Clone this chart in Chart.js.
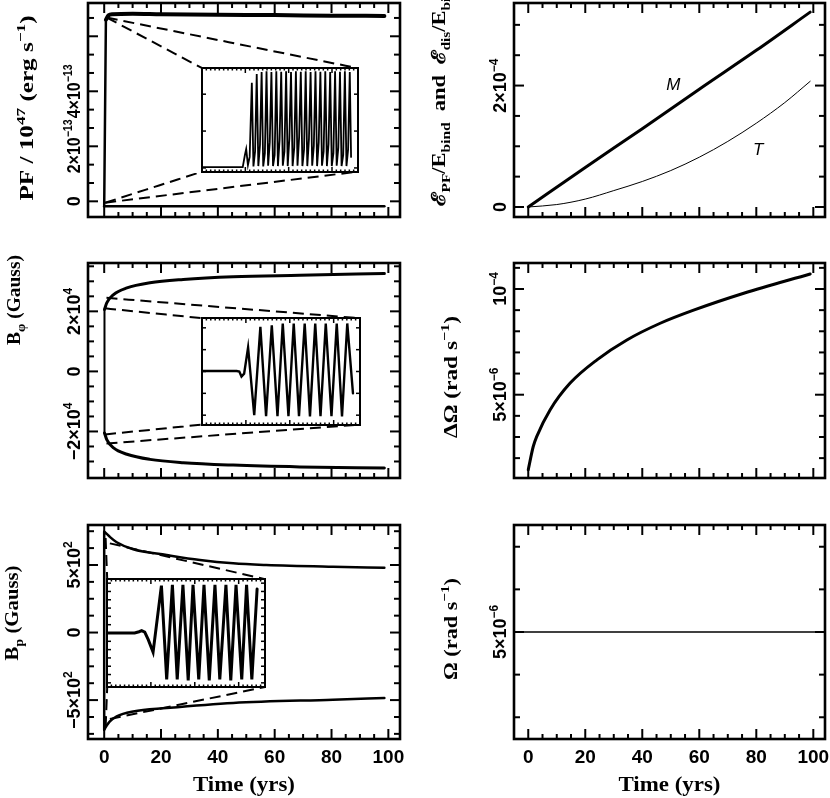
<!DOCTYPE html>
<html>
<head>
<meta charset="utf-8">
<title>Field and spin evolution</title>
<script src="https://cdn.jsdelivr.net/npm/chart.js@4.4.1/dist/chart.umd.min.js"></script>
<style>
  html, body { margin: 0; padding: 0; background: #fff; }
  #page { position: relative; width: 830px; height: 798px; overflow: hidden; background: #fff; }
  #page canvas { position: absolute; }
</style>
</head>
<body>
<div id="page"></div>
<script>
// time axis labels (yrs), shared by every panel
const timeTicks = [0, 20, 40, 60, 80, 100];

// PF / 1e47, units of 1e-13 erg/s
const pfTopTime = [0.6, 1.5, 3, 10, 20, 40, 60, 80, 98.6];
const pfTopVal = [6.6, 6.76, 6.8, 6.82, 6.8, 6.78, 6.77, 6.75, 6.74];
const pfLowTime = [0, 98.6];
const pfLowVal = [-0.18, -0.18];
const pfRiseTime = [0, 0.6];
const pfRiseVal = [-0.18, 6.6];
// zoomed start of PF (inset units)
const pfInsetTime = [0, 9.4, 9.9, 10.2, 10.6, 11.0, 11.5,
  11.87, 12.25, 12.63, 13.0, 13.38, 13.76, 14.13, 14.51, 14.89, 15.26, 15.64, 16.02,
  16.39, 16.77, 17.15, 17.52, 17.9, 18.28, 18.65, 19.03, 19.41, 19.78, 20.16, 20.54,
  20.91, 21.29, 21.67, 22.04, 22.42, 22.8, 23.17, 23.55, 23.93, 24.3, 24.68, 25.06,
  25.43, 25.81, 26.19, 26.56, 26.94, 27.32, 27.69, 28.07, 28.45, 28.82, 29.2, 29.58,
  29.95, 30.33, 30.71, 31.08, 31.46, 31.84, 32.21, 32.59, 32.97, 33.34, 33.72, 34.1, 34.4];
const pfInsetVal = [0.02, 0.02, 0.35, 0.51, 0.08, 0.3, 2.31,
  0.04, 0.45, 2.55, 0.05, 0.62, 2.6, 0.04, 0.4, 2.62, 0.06, 0.7, 2.6,
  0.05, 0.35, 2.62, 0.05, 0.75, 2.61, 0.06, 0.45, 2.62, 0.05, 0.8, 2.6,
  0.05, 0.55, 2.62, 0.06, 0.85, 2.61, 0.05, 0.5, 2.62, 0.05, 0.78, 2.6,
  0.06, 0.6, 2.62, 0.05, 0.7, 2.61, 0.06, 0.45, 2.62, 0.05, 0.65, 2.6,
  0.05, 0.4, 2.62, 0.06, 0.55, 2.61, 0.05, 0.35, 2.62, 0.05, 0.5, 2.6, 0.3];
const pfLinkTime = [0.9, 0.9, 0.35, 0.35];
const pfLinkVal = [6.68, 6.68, -0.05, -0.05];

// B_phi, units of 1e4 G
const bphiTime = [0.1, 0.9, 3.3, 8, 16.1, 27.8, 45.4, 68.8, 98.6];
const bphiTopVal = [2.06, 2.28, 2.56, 2.78, 2.95, 3.06, 3.15, 3.2, 3.26];
const bphiLowVal = [-2.05, -2.27, -2.55, -2.76, -2.93, -3.04, -3.12, -3.18, -3.22];
const bphiInsetTime = [0, 7.9, 8.5, 9.0, 9.6, 10.5, 11.9, 13.3, 14.6, 15.9, 17.2, 18.4,
  19.7, 20.9, 22.1, 23.4, 24.6, 25.8, 27.0, 28.2, 29.5, 30.7, 31.9, 33.1, 34.4];
const bphiInsetVal = [0.02, 0.02, 0.0, -0.23, -0.1, 1.1, -2.0, 2.05, -2.05, 2.12, -2.05, 2.2,
  -2.05, 2.2, -2.05, 2.2, -2.06, 2.2, -2.05, 2.2, -2.05, 2.2, -2.06, 2.2, -1.0];
const bphiLinkTime = [0.3, 0.8, 0.3, 0.8];
const bphiLinkVal = [2.1, 2.45, -2.1, -2.4];

// B_p, units of 1e2 G
const bpTopTime = [0, 1, 2, 4.4, 10.2, 22, 33.7, 45.4, 57, 80.5, 98.6];
const bpTopVal = [7.46, 7.28, 7.08, 6.68, 6.16, 5.74, 5.37, 5.12, 5.0, 4.87, 4.8];
const bpLowTime = [0, 1, 2, 4.4, 10.2, 22, 45.4, 80.5, 98.6];
const bpLowVal = [-7.19, -6.85, -6.58, -6.2, -5.84, -5.59, -5.21, -4.97, -4.85];
const bpInsetTime = [0, 6.3, 7.3, 7.9, 8.6, 9.4, 10.5, 12.4, 13.6, 14.9, 16.0, 17.3, 18.5,
  19.6, 20.9, 22.1, 23.3, 24.6, 25.7, 27.1, 28.2, 29.4, 30.7, 31.8, 33.0, 34.2];
const bpInsetVal = [0, 0, 0.15, 0.28, 0.1, -0.8, -2.3, 5.7, -5.6, 5.8, -5.6, 5.8, -5.7,
  5.8, -5.6, 5.8, -5.7, 5.8, -5.6, 5.8, -5.7, 5.8, -5.6, 5.8, -5.6, 5.3];
const bpLinkTime = [0.5, 2, 0.5, 2];
const bpLinkVal = [7.0, 6.6, -7.0, -6.4];

// energy fractions, units of 1e-4
const magTime = [0, 20, 40, 60, 80, 98.9];
const magVal = [0, 0.65, 1.29, 1.94, 2.58, 3.21];
const thermTime = [0, 10, 20, 30, 40, 50, 60, 70, 80, 90, 98.9];
const thermVal = [0, 0.04, 0.13, 0.27, 0.42, 0.6, 0.82, 1.08, 1.38, 1.72, 2.07];

// delta Omega, units of 1e-5 rad/s
const dOmegaTime = [0, 1.75, 3, 7.7, 14.7, 24.1, 34.6, 46.3, 58, 75.6, 98.9];
const dOmegaVal = [1.45, 2.55, 3.03, 4.29, 5.55, 6.65, 7.59, 8.38, 9.0, 9.8, 10.71];

// Omega, units of 1e-6 rad/s
const omegaTime = [-5, 105];
const omegaVal = [5, 5];

// zoom windows in panel units: x0, x1, y0, y1
const PF_BOX = [34.5, 89.3, 1.08, 4.84];
const BPHI_BOX = [34.5, 90.0, -1.77, 1.77];
const BP_BOX = [1.06, 56.6, -4.03, 3.95];

const TICK_FONT = '"Liberation Sans", "DejaVu Sans", sans-serif';
const TITLE_FONT = '"Liberation Serif", "DejaVu Serif", serif';

const page = document.getElementById('page');

const addCanvas = (left, top, width, height) => {
    const c = document.createElement('canvas');
    c.width = width;
    c.height = height;
    c.style.left = left + 'px';
    c.style.top = top + 'px';
    c.style.width = width + 'px';
    c.style.height = height + 'px';
    page.appendChild(c);
    return c;
};

const xy = (ts, vs) => ts.map((t, i) => ({x: t, y: vs[i]}));

const curve = (data, width, extra) => Object.assign({
    data: data,
    borderColor: '#000',
    borderWidth: width,
    pointRadius: 0,
    fill: false,
    cubicInterpolationMode: 'monotone',
    borderCapStyle: 'round',
    borderJoinStyle: 'round'
}, extra || {});

const dashed = (from, to) => curve([from, to], 2, {borderDash: [11, 6], borderCapStyle: 'butt'});

// links from the curve to the four corners of a zoom window
const links = (ts, vs, box) => {
    const corners = [[box[0], box[3]], [box[1], box[3]], [box[0], box[2]], [box[1], box[2]]];
    return corners.map((c, i) => dashed({x: ts[i], y: vs[i]}, {x: c[0], y: c[1]}));
};

// text with ^{sup} and _{sub}
const parseRich = s => {
    const segs = [];
    let buf = '';
    let i = 0;
    while(i < s.length) {
        const ch = s[i];
        if((ch === '^' || ch === '_') && s[i + 1] === '{') {
            if(buf) { segs.push({t: buf, lv: 0}); buf = ''; }
            const j = s.indexOf('}', i);
            segs.push({t: s.slice(i + 2, j), lv: ch === '^' ? 1 : -1});
            i = j + 1;
        }
        else { buf += ch; i++; }
    }
    if(buf) segs.push({t: buf, lv: 0});
    return segs;
};

// o.length squeezes or stretches the run to a fixed length
const drawRich = (ctx, s, x, y, o) => {
    const segs = parseRich(s);
    const weight = o.weight || 'bold';
    const fontFor = lv => `${weight} ${lv ? Math.round(o.size * 0.68) : o.size}px ${o.family}`;
    let w = 0;
    for(const g of segs) {
        ctx.font = fontFor(g.lv);
        g.w = ctx.measureText(g.t).width;
        w += g.w;
    }
    const k = o.length ? o.length / w : 1;
    ctx.save();
    ctx.translate(x, y);
    ctx.rotate(o.rot || 0);
    ctx.scale(k, 1);
    ctx.fillStyle = '#000';
    ctx.textAlign = 'left';
    ctx.textBaseline = 'alphabetic';
    let cx = -w / 2;
    for(const g of segs) {
        ctx.font = fontFor(g.lv);
        const dy = g.lv > 0 ? -o.size * 0.42 : (g.lv < 0 ? o.size * 0.25 : 0);
        ctx.fillText(g.t, cx, dy);
        cx += g.w;
    }
    ctx.restore();
};

const ticksAlong = (scale, step, every) => {
    const out = [];
    for(let i = Math.ceil(scale.min / step - 1e-6); i * step <= scale.max + 1e-6; i++)
        out.push([i * step, ((i % every) + every) % every === 0]);
    return out;
};

const seg = (ctx, x0, y0, x1, y1) => {
    ctx.beginPath();
    ctx.moveTo(x0, y0);
    ctx.lineTo(x1, y1);
    ctx.stroke();
};

// frame with inward ticks on all four sides
const drawFrame = (chart, t) => {
    const {ctx, chartArea: a, scales: {x, y}} = chart;
    ctx.save();
    ctx.strokeStyle = '#000';
    ctx.lineWidth = t.tickWidth;
    for(const [v, major] of ticksAlong(x, t.xStep, t.xEvery)) {
        const px = x.getPixelForValue(v);
        if(px < a.left + 2 || px > a.right - 2) continue;
        const len = major ? t.xLen[0] : t.xLen[1];
        seg(ctx, px, a.bottom, px, a.bottom - len);
        seg(ctx, px, a.top, px, a.top + len);
    }
    for(const [v, major] of ticksAlong(y, t.yStep, t.yEvery)) {
        const py = y.getPixelForValue(v);
        if(py < a.top + 2 || py > a.bottom - 2) continue;
        const len = major ? t.yLen[0] : t.yLen[1];
        seg(ctx, a.left, py, a.left + len, py);
        seg(ctx, a.right, py, a.right - len, py);
    }
    ctx.lineWidth = t.frameWidth;
    ctx.strokeRect(a.left, a.top, a.right - a.left, a.bottom - a.top);
    ctx.restore();
};

const panelPlugin = p => ({
    id: 'pgPanel',
    afterDatasetsDraw(chart) {
        drawFrame(chart, {tickWidth: 2, frameWidth: 2.6, xStep: 5, xEvery: 4, xLen: [10, 5],
            yStep: p.yStep, yEvery: p.yEvery, yLen: [10, 6]});
    },
    afterDraw(chart) {
        const {ctx, chartArea: a, scales: {x, y}} = chart;
        const ox = p.cell[0], oy = p.cell[1];
        p.yLabels.forEach(([v, s], i) => {
            const len = p.yLabelRun ? p.yLabelRun[i] : 0;
            drawRich(ctx, s, a.left - 8, y.getPixelForValue(v),
                {size: 18, family: TICK_FONT, rot: -Math.PI / 2, length: len || undefined});
        });
        const t = p.yTitle;
        drawRich(ctx, t[0], t[1] - ox, t[2] - oy, {size: 19, family: TITLE_FONT, rot: -Math.PI / 2, length: t[3]});
        if(p.timeAxis) {
            for(const v of timeTicks)
                drawRich(ctx, String(v), x.getPixelForValue(v), a.bottom + 24, {size: 19, family: TICK_FONT});
            drawRich(ctx, 'Time (yrs)', (a.left + a.right) / 2, 791 - oy, {size: 20, family: TITLE_FONT, length: 102});
        }
        for(const [nx, ny, s] of (p.notes || [])) {
            ctx.save();
            ctx.font = `italic 17px ${TICK_FONT}`;
            ctx.fillStyle = '#000';
            ctx.textAlign = 'center';
            ctx.textBaseline = 'middle';
            ctx.fillText(s, x.getPixelForValue(nx), y.getPixelForValue(ny));
            ctx.restore();
        }
    }
});

const drawPanel = p => {
    const c = addCanvas(p.cell[0], p.cell[1], p.cell[2], p.cell[3]);
    return new Chart(c, {
        type: 'line',
        data: {datasets: p.datasets},
        options: {
            responsive: false,
            animation: false,
            events: [],
            layout: {padding: {
                left: p.frame[0] - p.cell[0],
                top: p.frame[1] - p.cell[1],
                right: p.cell[0] + p.cell[2] - p.frame[2],
                bottom: p.cell[1] + p.cell[3] - p.frame[3]
            }},
            plugins: {legend: {display: false}, tooltip: {enabled: false}, title: {display: false}},
            scales: {
                x: {type: 'linear', min: p.x[0], max: p.x[1], display: false},
                y: {type: 'linear', min: p.y[0], max: p.y[1], display: false}
            }
        },
        plugins: [panelPlugin(p)]
    });
};

// zoom inset placed through the parent panel's scales
const drawInset = (main, p, box, ins) => {
    const xs = main.scales.x, ys = main.scales.y;
    const pad = 3;
    const l = Math.round(p.cell[0] + xs.getPixelForValue(box[0]));
    const r = Math.round(p.cell[0] + xs.getPixelForValue(box[1]));
    const t = Math.round(p.cell[1] + ys.getPixelForValue(box[3]));
    const b = Math.round(p.cell[1] + ys.getPixelForValue(box[2]));
    const c = addCanvas(l - pad, t - pad, r - l + 2 * pad, b - t + 2 * pad);
    return new Chart(c, {
        type: 'line',
        data: {datasets: [curve(ins.data, ins.width, {cubicInterpolationMode: 'default', tension: 0, borderJoinStyle: 'miter'})]},
        options: {
            responsive: false,
            animation: false,
            events: [],
            layout: {padding: pad},
            plugins: {legend: {display: false}, tooltip: {enabled: false}},
            scales: {
                x: {type: 'linear', min: 0, max: 36, display: false},
                y: {type: 'linear', min: ins.y[0], max: ins.y[1], display: false}
            }
        },
        plugins: [{
            id: 'pgInset',
            beforeDatasetsDraw(chart) {
                const a = chart.chartArea;
                chart.ctx.save();
                chart.ctx.fillStyle = '#fff';
                chart.ctx.fillRect(a.left, a.top, a.right - a.left, a.bottom - a.top);
                chart.ctx.restore();
            },
            afterDatasetsDraw(chart) {
                drawFrame(chart, {tickWidth: 1.5, frameWidth: 2, xStep: 1, xEvery: 10, xLen: [5, 2.5],
                    yStep: 1, yEvery: 1, yLen: [4, 4]});
            }
        }]
    });
};

const LEFT_X = [-5.7, 104.1];
const RIGHT_X = [-5.0, 104.1];

// PF panel; the two long labels meet edge to edge, as in the source figure
const p1 = {
    cell: [0, 0, 415, 240], frame: [88, 3, 400, 217], x: LEFT_X, y: [-0.57, 7.21],
    yStep: 2 / 3, yEvery: 3,
    yLabels: [[0, '0'], [2, '2×10^{−13}'], [4, '4×10^{−13}']],
    yLabelRun: [0, 54, 54],
    yTitle: ['PF / 10^{47} (erg s^{−1})', 33, 108, 185],
    datasets: [
        curve(xy(pfTopTime, pfTopVal), 4),
        curve(xy(pfLowTime, pfLowVal), 2.5),
        curve(xy(pfRiseTime, pfRiseVal), 2.5),
        ...links(pfLinkTime, pfLinkVal, PF_BOX)
    ]
};
const c1 = drawPanel(p1);
drawInset(c1, p1, PF_BOX, {data: xy(pfInsetTime, pfInsetVal), width: 1.8, y: [-0.11, 2.71]});

// B_phi panel
const p2 = {
    cell: [0, 240, 415, 260], frame: [88, 263, 400, 478], x: LEFT_X, y: [-3.55, 3.61],
    yStep: 0.5, yEvery: 4,
    yLabels: [[-2, '−2×10^{4}'], [0, '0'], [2, '2×10^{4}']],
    yTitle: ['B_{φ} (Gauss)', 20, 300, 90],
    datasets: [
        curve(xy(bphiTime, bphiTopVal), 3),
        curve(xy(bphiTime, bphiLowVal), 3),
        curve([{x: bphiTime[0], y: bphiLowVal[0]}, {x: bphiTime[0], y: bphiTopVal[0]}], 2),
        ...links(bphiLinkTime, bphiLinkVal, BPHI_BOX)
    ]
};
const c2 = drawPanel(p2);
drawInset(c2, p2, BPHI_BOX, {data: xy(bphiInsetTime, bphiInsetVal), width: 2.4, y: [-2.45, 2.45]});

// B_p panel
const p3 = {
    cell: [0, 500, 415, 298], frame: [88, 525, 400, 739], x: LEFT_X, y: [-7.88, 7.96],
    yStep: 1.25, yEvery: 4, timeAxis: true,
    yLabels: [[-5, '−5×10^{2}'], [0, '0'], [5, '5×10^{2}']],
    yTitle: ['B_{p} (Gauss)', 18, 613, 95],
    datasets: [
        curve(xy(bpTopTime, bpTopVal), 2.5),
        curve(xy(bpLowTime, bpLowVal), 2.5),
        curve([{x: bpTopTime[0], y: bpLowVal[0]}, {x: bpTopTime[0], y: bpTopVal[0]}], 2.5),
        ...links(bpLinkTime, bpLinkVal, BP_BOX)
    ]
};
const c3 = drawPanel(p3);
drawInset(c3, p3, BP_BOX, {data: xy(bpInsetTime, bpInsetVal), width: 3, y: [-6.5, 6.5]});

// energy panel
drawPanel({
    cell: [415, 0, 415, 240], frame: [514, 3, 825, 217], x: RIGHT_X, y: [-0.165, 3.36],
    yStep: 0.5, yEvery: 4,
    yLabels: [[0, '0'], [2, '2×10^{−4}']],
    yTitle: ['ℰ_{PF}/E_{bind}  and  ℰ_{dis}/E_{bind}', 445, 93, 225],
    notes: [[50.9, 2.01, 'M'], [80.7, 0.94, 'T']],
    datasets: [
        curve(xy(magTime, magVal), 3),
        curve(xy(thermTime, thermVal), 1)
    ]
});

// delta Omega panel
drawPanel({
    cell: [415, 240, 415, 260], frame: [514, 263, 825, 478], x: RIGHT_X, y: [1.06, 11.23],
    yStep: 1, yEvery: 5,
    yLabels: [[5, '5×10^{−6}'], [10, '10^{−4}']],
    yTitle: ['ΔΩ (rad s^{−1})', 457, 377, 122],
    datasets: [curve(xy(dOmegaTime, dOmegaVal), 3)]
});

// Omega panel
drawPanel({
    cell: [415, 500, 415, 298], frame: [514, 525, 825, 739], x: RIGHT_X, y: [2.49, 7.51],
    yStep: 1, yEvery: 5, timeAxis: true,
    yLabels: [[5, '5×10^{−6}']],
    yTitle: ['Ω (rad s^{−1})', 457, 629, 102],
    datasets: [curve(xy(omegaTime, omegaVal), 1.5)]
});
</script>
</body>
</html>
